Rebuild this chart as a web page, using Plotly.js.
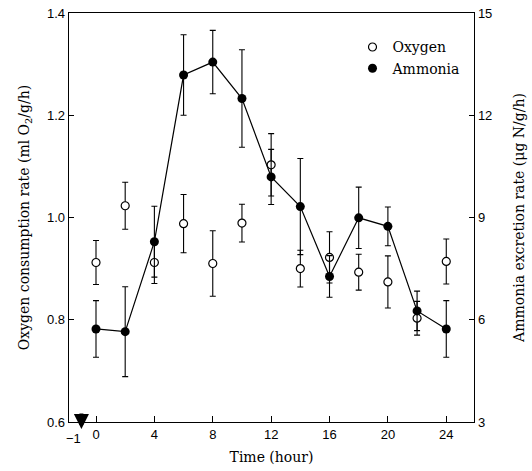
<!DOCTYPE html>
<html>
<head>
<meta charset="utf-8">
<script src="https://cdn.plot.ly/plotly-3.0.1.min.js"></script>
<style>html,body{margin:0;padding:0;background:#fff;}#chart{width:532px;height:471px;}</style>
</head>
<body>
<div id="chart"></div>
<script>
// ---- data ----
var hours = [0, 2, 4, 6, 8, 10, 12, 14, 16, 18, 20, 22, 24];
var oxygen = [0.912, 1.023, 0.912, 0.988, 0.910, 0.989, 1.103, 0.900, 0.922, 0.893, 0.874, 0.803, 0.914];
var oxygenErr = [0.043, 0.046, 0.041, 0.057, 0.064, 0.037, 0.061, 0.036, 0.050, 0.035, 0.051, 0.033, 0.044];
var ammonia = [5.73, 5.65, 8.29, 13.18, 13.56, 12.49, 10.19, 9.32, 7.27, 8.99, 8.74, 6.26, 5.73];
var ammoniaErr = [0.83, 1.32, 1.04, 1.18, 0.93, 1.43, 0.81, 1.41, 0.61, 0.90, 0.57, 0.58, 0.83];
var xTickVals = [0, 4, 8, 12, 16, 20, 24];
var yLeftTicks = [0.6, 0.8, 1.0, 1.2, 1.4];
var yLeftText = ["0.6", "0.8", "1.0", "1.2", "1.4"];
var yRightTicks = [3, 6, 9, 12, 15];
var injectionHour = -1;

var serif = "DejaVu Serif, serif";
var sans = "Liberation Sans, Arial, sans-serif";

var traces = [
  {
    x: hours, y: oxygen, type: "scatter", mode: "markers", name: "Oxygen",
    xaxis: "x", yaxis: "y",
    marker: {symbol: "circle", size: 8, color: "#ffffff", line: {color: "#000", width: 1.2}},
    error_y: {type: "data", array: oxygenErr, visible: true, color: "#000", thickness: 1.1, width: 3}
  },
  {
    x: hours, y: ammonia, type: "scatter", mode: "lines", showlegend: false,
    xaxis: "x", yaxis: "y2", hoverinfo: "skip",
    line: {color: "#000", width: 1.2}
  },
  {
    x: hours, y: ammonia, type: "scatter", mode: "markers", name: "Ammonia",
    xaxis: "x", yaxis: "y2",
    marker: {symbol: "circle", size: 9, color: "#000"},
    error_y: {type: "data", array: ammoniaErr, visible: true, color: "#000", thickness: 1.1, width: 3}
  }
];

var layout = {
  width: 532, height: 471,
  margin: {l: 69, r: 58, t: 13, b: 49},
  paper_bgcolor: "#fff", plot_bgcolor: "#fff",
  showlegend: true,
  legend: {x: 0.7, y: 0.955, xanchor: "left", yanchor: "top", font: {family: serif, size: 14, color: "#000"}, bgcolor: "rgba(0,0,0,0)"},
  xaxis: {
    range: [-1.85, 25.9], tickvals: xTickVals, ticktext: xTickVals.map(String),
    ticks: "inside", ticklen: 6, tickcolor: "#000", tickwidth: 1,
    showline: true, linecolor: "#000", linewidth: 1.3, mirror: true,
    showgrid: false, zeroline: false,
    tickfont: {family: sans, size: 13, color: "#000"},
    title: {text: "Time (hour)", font: {family: serif, size: 14, color: "#000"}, standoff: 11}
  },
  yaxis: {
    range: [0.6, 1.4], tickvals: yLeftTicks, ticktext: yLeftText,
    ticks: "inside", ticklen: 5, tickcolor: "#000", tickwidth: 1,
    showline: true, linecolor: "#000", linewidth: 1.3,
    showgrid: false, zeroline: false,
    tickfont: {family: sans, size: 13, color: "#000"},
    title: {text: "Oxygen consumption rate (ml O<sub>2</sub>/g/h)", font: {family: serif, size: 14, color: "#000"}, standoff: 14}
  },
  yaxis2: {
    range: [3, 15], tickvals: yRightTicks, ticktext: yRightTicks.map(String),
    overlaying: "y", side: "right",
    ticks: "inside", ticklen: 5, tickcolor: "#000", tickwidth: 1,
    showline: true, linecolor: "#000", linewidth: 1.3,
    showgrid: false, zeroline: false,
    tickfont: {family: sans, size: 13, color: "#000"},
    title: {text: "Ammonia excretion rate (μg N/g/h)", font: {family: serif, size: 14, color: "#000"}, standoff: 22}
  },
  annotations: [
    {x: injectionHour, y: 0.6, xref: "x", yref: "y", text: "", showarrow: true,
     ax: 0, ay: -17, arrowhead: 2, arrowsize: 0.75, arrowwidth: 4, arrowcolor: "#000", standoff: 0, yshift: -7},
    {x: injectionHour, y: 0, xref: "x", yref: "paper", text: "\u22121", showarrow: false,
     xanchor: "center", yanchor: "top", xshift: -8, yshift: -7, font: {family: sans, size: 13, color: "#000"}}
  ]
};

Plotly.newPlot("chart", traces, layout, {staticPlot: true});
</script>
</body>
</html>
